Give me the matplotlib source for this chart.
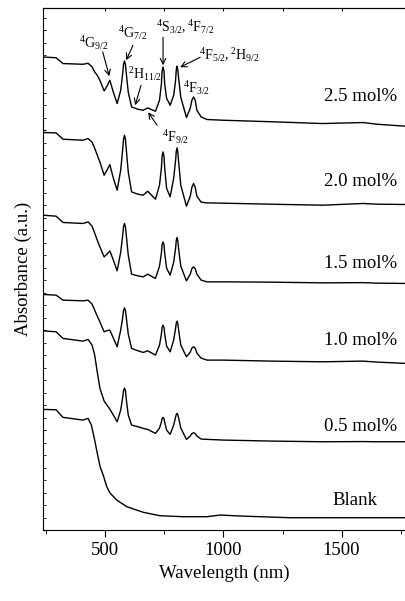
import matplotlib
matplotlib.use("Agg")
import matplotlib.pyplot as plt
from matplotlib.ticker import MultipleLocator, FixedLocator

plt.rcParams['font.family'] = ['Liberation Serif', 'DejaVu Serif']
plt.rcParams['mathtext.fontset'] = 'custom'
plt.rcParams['mathtext.rm'] = 'Liberation Serif'
plt.rcParams['mathtext.it'] = 'Liberation Serif:italic'

# wavelength grid (nm) for the doped glasses
wavelength = [238, 293, 322, 407, 428, 445, 456, 467, 478, 496, 508, 520, 535, 551,
              566, 574, 578, 582, 586, 590, 598, 612, 639, 661, 680, 713, 730, 738,
              741, 745, 749, 752, 760, 775, 790, 798, 801, 804, 807, 811, 820, 844,
              860, 867, 874, 881, 888, 906, 931, 1000, 1200, 1420, 1590, 1650, 1772]

# absorbance (a.u., stacked)
abs_25 = [4.733, 4.725, 4.667, 4.66, 4.67, 4.635, 4.583, 4.55, 4.50, 4.393, 4.44, 4.50,
          4.38, 4.267, 4.40, 4.56, 4.66, 4.693, 4.66, 4.56, 4.38, 4.233, 4.21, 4.20,
          4.223, 4.19, 4.30, 4.46, 4.59, 4.633, 4.59, 4.46, 4.32, 4.25, 4.35, 4.50,
          4.605, 4.64, 4.61, 4.52, 4.33, 4.127, 4.22, 4.30, 4.333, 4.30, 4.20, 4.133,
          4.107, 4.10, 4.085, 4.067, 4.077, 4.06, 4.04]
abs_20 = [3.977, 3.973, 3.91, 3.90, 3.917, 3.88, 3.82, 3.75, 3.683, 3.55, 3.60, 3.657,
          3.52, 3.40, 3.60, 3.80, 3.91, 3.95, 3.91, 3.80, 3.58, 3.383, 3.36, 3.35,
          3.39, 3.31, 3.45, 3.62, 3.74, 3.783, 3.74, 3.62, 3.42, 3.333, 3.52, 3.70,
          3.79, 3.823, 3.79, 3.68, 3.45, 3.24, 3.34, 3.43, 3.467, 3.43, 3.34, 3.28,
          3.273, 3.27, 3.26, 3.25, 3.267, 3.26, 3.257]
abs_15 = [3.15, 3.14, 3.077, 3.067, 3.083, 3.04, 2.97, 2.90, 2.833, 2.733, 2.76, 2.793,
          2.70, 2.593, 2.78, 2.94, 3.035, 3.067, 3.035, 2.94, 2.75, 2.56, 2.543, 2.533,
          2.56, 2.517, 2.64, 2.77, 2.855, 2.883, 2.855, 2.77, 2.62, 2.55, 2.68, 2.82,
          2.90, 2.927, 2.90, 2.81, 2.64, 2.493, 2.56, 2.615, 2.633, 2.615, 2.56, 2.50,
          2.483, 2.483, 2.48, 2.473, 2.475, 2.47, 2.467]
abs_10 = [2.357, 2.35, 2.30, 2.293, 2.30, 2.26, 2.20, 2.14, 2.083, 1.983, 1.995, 2.00,
          1.92, 1.833, 2.00, 2.12, 2.197, 2.223, 2.197, 2.12, 1.96, 1.817, 1.793, 1.777,
          1.793, 1.75, 1.85, 1.96, 2.027, 2.05, 2.027, 1.96, 1.84, 1.783, 1.90, 2.02,
          2.07, 2.09, 2.07, 2.00, 1.85, 1.733, 1.78, 1.82, 1.833, 1.82, 1.77, 1.72,
          1.70, 1.70, 1.69, 1.683, 1.69, 1.68, 1.667]
abs_05 = [1.993, 1.983, 1.917, 1.89, 1.907, 1.85, 1.75, 1.58, 1.42, 1.29, 1.25, 1.21,
          1.15, 1.083, 1.20, 1.32, 1.395, 1.42, 1.395, 1.30, 1.15, 1.05, 1.033, 1.017,
          1.007, 0.967, 1.02, 1.08, 1.115, 1.127, 1.115, 1.08, 1.00, 0.957, 1.05, 1.13,
          1.157, 1.167, 1.157, 1.12, 1.02, 0.907, 0.94, 0.965, 0.973, 0.965, 0.94, 0.91,
          0.907, 0.90, 0.89, 0.883, 0.885, 0.883, 0.883]

# blank glass
wavelength_blank = [238, 293, 322, 407, 428, 442, 456, 466, 479, 492, 507, 521, 549,
                    592, 662, 732, 831, 930, 986, 1071, 1282, 1772]
abs_blank = [1.207, 1.203, 1.127, 1.10, 1.117, 1.05, 0.90, 0.78, 0.633, 0.55, 0.433,
             0.37, 0.30, 0.233, 0.177, 0.143, 0.133, 0.133, 0.15, 0.14, 0.123, 0.123]

labels = ["2.5 mol%", "2.0 mol%", "1.5 mol%", "1.0 mol%", "0.5 mol%"]
label_y = [4.333, 3.483, 2.667, 1.90, 1.033]

fig = plt.figure(figsize=(4.06, 6.01), dpi=100)
ax = fig.add_axes([0.105, 0.1181, 0.895, 0.8681])

for a in [abs_25, abs_20, abs_15, abs_10, abs_05]:
    ax.plot(wavelength, a, color="black", lw=1.0)
ax.plot(wavelength_blank, abs_blank, color="black", lw=1.0)

for lab, y in zip(labels, label_y):
    ax.text(1733, y, lab, ha="right", va="center", fontsize=13.5)
ax.text(1557, 0.30, "Blank", ha="center", va="center", fontsize=13.5)

# band assignments
arr = dict(arrowstyle="->", color="black", lw=0.8, shrinkA=0, shrinkB=0)
fs = 10
ax.text(453, 4.87, r"$^{4}\mathrm{G}_{9/2}$", ha="center", va="center", fontsize=fs)
ax.annotate("", xy=(518, 4.54), xytext=(490, 4.783), arrowprops=arr)
ax.text(618, 4.97, r"$^{4}\mathrm{G}_{7/2}$", ha="center", va="center", fontsize=fs)
ax.annotate("", xy=(589, 4.70), xytext=(618, 4.85), arrowprops=arr)
ax.text(838, 5.03, r"$^{4}\mathrm{S}_{3/2}, ^{4}\mathrm{F}_{7/2}$", ha="center", va="center", fontsize=fs)
ax.annotate("", xy=(745, 4.65), xytext=(745, 4.93), arrowprops=arr)
ax.text(897, 4.75, r"$^{4}\mathrm{F}_{5/2}, ^{2}\mathrm{H}_{9/2}$", ha="left", va="center", fontsize=fs)
ax.annotate("", xy=(817, 4.63), xytext=(902, 4.73), arrowprops=arr)
ax.text(669, 4.56, r"$^{2}\mathrm{H}_{11/2}$", ha="center", va="center", fontsize=fs)
ax.annotate("", xy=(627, 4.25), xytext=(652, 4.45), arrowprops=arr)
ax.text(885, 4.42, r"$^{4}\mathrm{F}_{3/2}$", ha="center", va="center", fontsize=fs)
ax.text(796, 3.93, r"$^{4}\mathrm{F}_{9/2}$", ha="center", va="center", fontsize=fs)
ax.annotate("", xy=(682, 4.18), xytext=(720, 4.05), arrowprops=arr)

ax.set_xlim(236, 1772)
ax.set_ylim(0, 5.22)
ax.spines["right"].set_visible(False)

ax.xaxis.set_major_locator(FixedLocator([500, 1000, 1500]))
ax.xaxis.set_minor_locator(FixedLocator([250, 750, 1250, 1750]))
ax.tick_params(axis="x", which="major", direction="out", length=5, labelsize=13.5)
ax.tick_params(axis="x", which="minor", direction="out", length=3)
ax.yaxis.set_major_locator(MultipleLocator(1.0))
ax.yaxis.set_minor_locator(MultipleLocator(0.125))
ax.tick_params(axis="y", which="both", direction="in", length=2, labelleft=False)

top = ax.secondary_xaxis("top")
top.xaxis.set_major_locator(FixedLocator([500, 750, 1000, 1250, 1500]))
top.tick_params(direction="in", length=2, labeltop=False)

ax.set_xlabel("Wavelength (nm)", fontsize=13.5)
ax.set_ylabel("Absorbance (a.u.)", fontsize=13.5, labelpad=8)

fig.savefig("out.png", dpi=100)
